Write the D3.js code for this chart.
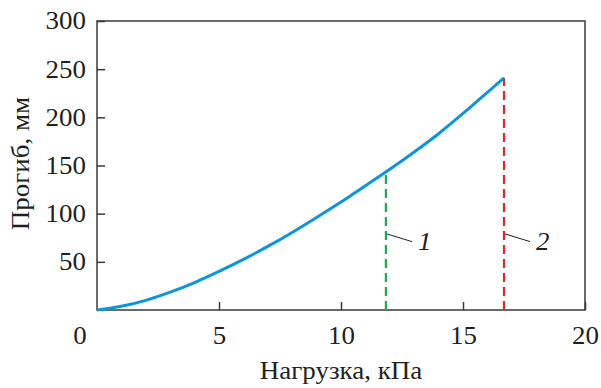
<!DOCTYPE html>
<html>
<head>
<meta charset="utf-8">
<script src="https://cdn.jsdelivr.net/npm/d3@7"></script>
<style>
  body { margin: 0; background: #fff; }
  svg text { font-family: "Liberation Serif", "Times New Roman", Times, serif; fill: #231f20; }
</style>
</head>
<body>
<div id="chart"></div>
<script>
// load, kPa
const loads = [0, 1, 2, 3, 4, 5, 6, 7, 8, 9, 10, 11, 12, 13, 14, 15, 16, 16.68];
// deflection, mm
const deflection = [0, 3.8, 10, 18.5, 28.5, 40, 52.5, 66, 80.5, 96, 112, 129, 146, 164, 183, 204, 226, 241];

const xTicks = [0, 5, 10, 15, 20];
const yTicks = [50, 100, 150, 200, 250, 300];

// vertical markers: 1 and 2
const markerX = [11.84, 16.68];
const markerTop = [144, 241];
const markerNames = ["1", "2"];
const markerColors = ["#1cac4f", "#e8232b"];

const w = 601;
const h = 388;
const m = { left: 97, right: 16, top: 21, bottom: 78 };
const stretch = 1.1; // the printed font is a bit wider than Liberation Serif

const svg = d3.select("#chart")
    .append("svg")
    .attr("width", w)
    .attr("height", h);

const xScale = d3.scaleLinear()
    .domain([0, 20])
    .range([m.left, w - m.right]);

const yScale = d3.scaleLinear()
    .domain([0, 300])
    .range([h - m.bottom, m.top]);

// frame
svg.append("rect")
    .attr("x", xScale(0))
    .attr("y", yScale(300))
    .attr("width", xScale(20) - xScale(0))
    .attr("height", yScale(0) - yScale(300))
    .attr("fill", "none")
    .attr("stroke", "#3a3a3a")
    .attr("stroke-width", 1.5);

const xAxis = d3.axisBottom(xScale)
    .tickValues(xTicks)
    .tickSizeInner(-8)
    .tickSizeOuter(0)
    .tickPadding(17);

const yAxis = d3.axisLeft(yScale)
    .tickValues(yTicks)
    .tickSizeInner(-8)
    .tickSizeOuter(0)
    .tickPadding(10);

const gx = svg.append("g")
    .attr("transform", `translate(0,${yScale(0)})`)
    .call(xAxis);

const gy = svg.append("g")
    .attr("transform", `translate(${xScale(0)},0)`)
    .call(yAxis);

[gx, gy].forEach(g => {
    g.select(".domain").remove();
    g.selectAll(".tick line").attr("stroke", "#3a3a3a").attr("stroke-width", 1.5);
    g.selectAll(".tick text")
        .attr("font-size", 24.5)
        .attr("fill", "#231f20")
        .attr("transform", `scale(${stretch},1)`);
});

// origin label sits left of the corner, no tick mark at 0
gx.selectAll(".tick").filter(d => d === 0).select("line").remove();
gx.selectAll(".tick").filter(d => d === 0).select("text").attr("x", -16);

// curve
const pts = loads.map((d, i) => [d, deflection[i]]);
const line = d3.line()
    .x(d => xScale(d[0]))
    .y(d => yScale(d[1]))
    .curve(d3.curveMonotoneX);

// markers
markerX.forEach((mx, i) => {
    svg.append("line")
        .attr("x1", xScale(mx))
        .attr("x2", xScale(mx))
        .attr("y1", yScale(0))
        .attr("y2", yScale(markerTop[i]))
        .attr("stroke", markerColors[i])
        .attr("stroke-width", 2.2)
        .attr("stroke-dasharray", "9,5");

    svg.append("line")
        .attr("x1", xScale(mx) + 1)
        .attr("y1", yScale(79))
        .attr("x2", xScale(mx) + 26)
        .attr("y2", yScale(71))
        .attr("stroke", "#231f20")
        .attr("stroke-width", 1);

    svg.append("text")
        .attr("transform", `translate(${xScale(mx) + 32},${yScale(62)}) scale(${stretch},1)`)
        .attr("font-size", 24.5)
        .attr("font-style", "italic")
        .text(markerNames[i]);
});

svg.append("path")
    .datum(pts)
    .attr("d", line)
    .attr("fill", "none")
    .attr("stroke", "#0a96d8")
    .attr("stroke-width", 3);

// axis titles
svg.append("text")
    .attr("transform", `translate(${xScale(10)},379) scale(${stretch},1)`)
    .attr("text-anchor", "middle")
    .attr("font-size", 24.5)
    .text("Нагрузка, кПа");

svg.append("text")
    .attr("transform", `translate(29,${yScale(152)}) rotate(-90) scale(${stretch},1)`)
    .attr("text-anchor", "middle")
    .attr("font-size", 24.5)
    .text("Прогиб, мм");
</script>
</body>
</html>
